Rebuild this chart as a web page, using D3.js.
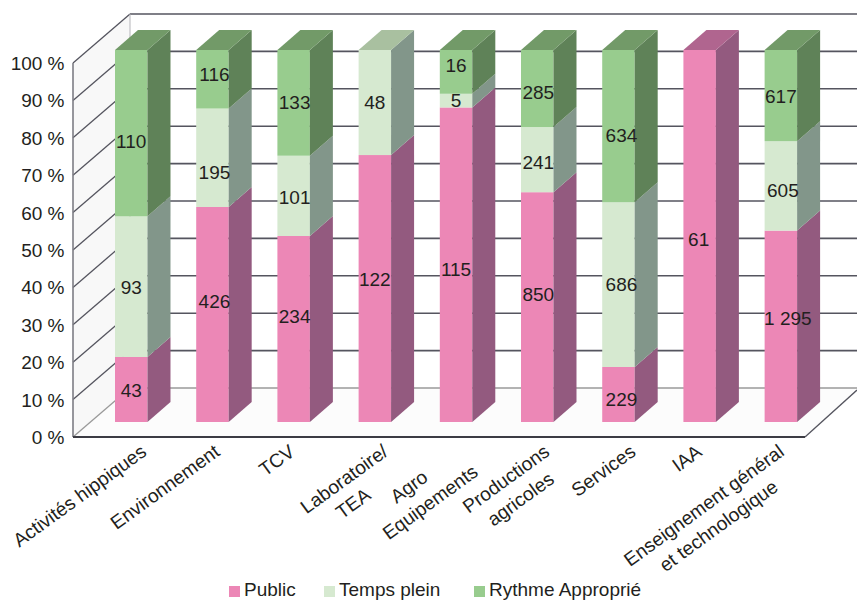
<!DOCTYPE html>
<html><head><meta charset="utf-8">
<script src="https://cdn.jsdelivr.net/npm/d3@7"></script>
<style>html,body{margin:0;padding:0;background:#fff}svg{display:block}text{font-family:"Liberation Sans",Arial,sans-serif;fill:#231f20}</style>
</head><body><svg id="c" width="857" height="600"></svg>
<script>
const categories=[["Activités hippiques"],["Environnement"],["TCV"],["Laboratoire/","TEA"],["Agro","Equipements"],["Productions","agricoles"],["Services"],["IAA"],["Enseignement général","et technologique"]];
const seriesNames=["Public","Temps plein","Rythme Approprié"];
const publicValues=[43,426,234,122,115,850,229,61,1295];
const tempsPleinValues=[93,195,101,48,5,241,686,0,605];
const rythmeValues=[110,116,133,0,16,285,634,0,617];
const tickValues=[0,10,20,30,40,50,60,70,80,90,100];

const frontColors=["#ec87b6","#d6e9d0","#98cc8e"];
const sideColors=["#935a7f","#82968a","#5f8258"];
const topColors=["#b0658f","#a9c0a0","#729a68"];
// label offsets as placed in the source chart (one row per category)
const labelNudges=[[1,1,8],[-13,15,-5],[-13,2,0],[-9,0,0],[5,0,-6],[-13,3,4],[5,0,9],[3,0,0],[-8,5,1]];
const labelShiftX=[[0,0,0],[2,2,2],[1,1,1],[0,0,0],[0,0,0],[1,1,1],[3,3,3],[-1,0,0],[7,2,0]];
const tickLabelShift=[13,5,-1,11,5,10,15,0,1];
const tickLineAlong=[[0],[0],[0],[0,-7],[-8,0],[0,0],[0],[0],[0,0]];

const svg=d3.select("#c");
const depthX=23,depthY=20,wallX=57,wallY=49;
const names=categories.map(c=>c.join(" "));
const x=d3.scaleBand().domain(names).range([74.4,837.7]).paddingInner(.6).paddingOuter(.5);
const yBar=d3.scaleLinear().domain([0,100]).range([422,50]);
const yAxis=d3.scaleLinear().domain([0,100]).range([437,63]);
const xLeft=73,xRight=805;

// walls
svg.append("polygon").attr("points",[[xLeft,yAxis(100)],[xLeft+wallX,yAxis(100)-wallY],[xLeft+wallX,yAxis(0)-wallY],[xLeft,yAxis(0)]].join(" ")).attr("fill","#f8f8f8");
svg.append("polygon").attr("points",[[xLeft,yAxis(0)],[xLeft+wallX,yAxis(0)-wallY],[857,yAxis(0)-wallY],[xRight,yAxis(0)]].join(" ")).attr("fill","#fcfcfc");

// gridlines
const lineColor="#55555f";
tickValues.forEach(t=>{
  const yy=yAxis(t);
  const c=t===0?"#9a9a9a":lineColor;
  svg.append("line").attr("x1",xLeft).attr("y1",yy).attr("x2",xLeft+wallX).attr("y2",yy-wallY).attr("stroke",c).attr("stroke-width",1.3);
  svg.append("line").attr("x1",xLeft+wallX).attr("y1",yy-wallY).attr("x2",857).attr("y2",yy-wallY).attr("stroke",c).attr("stroke-width",1.6);
});
svg.append("line").attr("x1",xLeft+wallX).attr("y1",yAxis(100)-wallY).attr("x2",xLeft+wallX).attr("y2",yAxis(0)-wallY).attr("stroke","#b5b5ba").attr("stroke-width",1);
svg.append("line").attr("x1",xRight).attr("y1",yAxis(0)).attr("x2",857).attr("y2",yAxis(0)-wallY+2).attr("stroke","#55555f").attr("stroke-width",1.3);

// y axis and floor front edge
svg.append("line").attr("x1",xLeft).attr("y1",yAxis(100)).attr("x2",xLeft).attr("y2",yAxis(0)).attr("stroke","#7d7d85").attr("stroke-width",1.6);
svg.append("line").attr("x1",xLeft).attr("y1",yAxis(0)).attr("x2",xRight).attr("y2",yAxis(0)).attr("stroke","#3c3c44").attr("stroke-width",1.8);
svg.selectAll(".yt").data(tickValues).join("text").attr("class","yt")
  .attr("x",64.5).attr("y",d=>yAxis(d)+7).attr("text-anchor","end").attr("font-size",19).text(d=>d+" %");

// bars
const rows=names.map((n,i)=>({name:n,i,vals:[publicValues[i],tempsPleinValues[i],rythmeValues[i]]}));
const fmt=v=>String(v).replace(/\B(?=(\d{3})+$)/g," ");
rows.forEach(r=>{
  const total=d3.sum(r.vals);
  let cum=0;
  const x0=x(r.name),w=x.bandwidth();
  const segs=r.vals.map((v,s)=>{const a=cum/total*100;cum+=v;return {v,s,a,b:cum/total*100};}).filter(d=>d.v>0);
  const g=svg.append("g");
  segs.forEach(d=>{
    const y1=yBar(d.a),y2=yBar(d.b);
    g.append("rect").attr("x",x0).attr("y",y2).attr("width",w).attr("height",y1-y2).attr("fill",frontColors[d.s]);
    g.append("polygon").attr("points",[[x0+w,y1],[x0+w+depthX,y1-depthY],[x0+w+depthX,y2-depthY],[x0+w,y2]].join(" ")).attr("fill",sideColors[d.s]);
  });
  const last=segs[segs.length-1],yt=yBar(100);
  g.append("polygon").attr("points",[[x0,yt],[x0+w,yt],[x0+w+depthX,yt-depthY],[x0+depthX,yt-depthY]].join(" ")).attr("fill",topColors[last.s]);
  segs.forEach(d=>{
    const my=(yBar(d.a)+yBar(d.b))/2+labelNudges[r.i][d.s];
    g.append("text").attr("x",x0+w/2+labelShiftX[r.i][d.s]).attr("y",my+6.5).attr("text-anchor","middle").attr("font-size",19).text(fmt(d.v));
  });
});

// category labels
categories.forEach((lines,i)=>{
  const n=names[i];
  const g=svg.append("g").attr("transform",`translate(${x(n)+x.bandwidth()/2+tickLabelShift[i]},449.5) rotate(-36)`);
  const ts=lines.map((l,j)=>g.append("text").attr("y",j*25+6).attr("text-anchor","middle").attr("font-size",19.2).text(l));
  const m=d3.max(ts,t=>t.node().getComputedTextLength());
  ts.forEach((t,j)=>t.attr("x",-m/2+tickLineAlong[i][j]));
});

// legend
const legendSwatch=d3.scaleOrdinal().domain(seriesNames).range([229,324,474]);
seriesNames.forEach((s,i)=>{
  const lx=legendSwatch(s);
  svg.append("rect").attr("x",lx).attr("y",586).attr("width",11).attr("height",11).attr("fill",frontColors[i]);
  svg.append("text").attr("x",lx+15).attr("y",595.5).attr("font-size",19).text(s);
});
</script></body></html>
